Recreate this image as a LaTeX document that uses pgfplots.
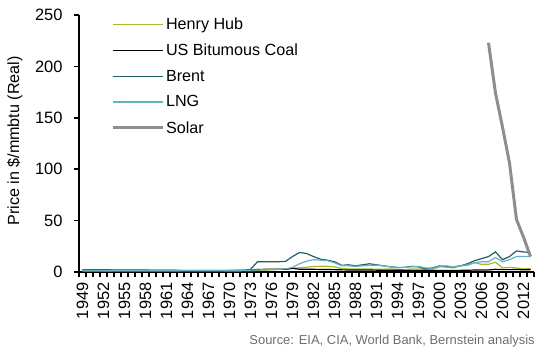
\documentclass[border=0pt]{standalone}
\usepackage{pgfplots}
\pgfplotsset{compat=1.18}
\usepackage{pgfplotstable}
\usepackage{fontspec}
\setmainfont{Liberation Sans}
\definecolor{hh}{HTML}{A8B828}
\definecolor{brent}{HTML}{1E5E6C}
\definecolor{lng}{HTML}{62B4C2}
\definecolor{solar}{HTML}{8E8E8E}
\definecolor{src}{HTML}{6E6E6E}

\pgfplotstableread{
year hh coal brent lng
1949 0.9 1.6 2.2 1.5
1950 0.9 1.6 2.2 1.5
1951 0.9 1.6 2.1 1.5
1952 0.9 1.6 2.1 1.5
1953 0.9 1.6 2.1 1.5
1954 0.9 1.5 2.0 1.5
1955 0.9 1.5 2.0 1.5
1956 0.9 1.5 2.0 1.5
1957 0.9 1.5 2.0 1.5
1958 0.9 1.4 1.9 1.4
1959 0.9 1.4 1.8 1.4
1960 0.9 1.4 1.8 1.4
1961 0.9 1.4 1.7 1.4
1962 0.9 1.4 1.7 1.4
1963 0.9 1.3 1.6 1.4
1964 0.9 1.3 1.6 1.4
1965 0.9 1.3 1.6 1.4
1966 0.9 1.3 1.5 1.4
1967 0.9 1.3 1.5 1.4
1968 0.9 1.3 1.5 1.4
1969 0.9 1.3 1.4 1.4
1970 0.9 1.4 1.4 1.4
1971 1.0 1.5 1.6 1.5
1972 1.1 1.5 1.7 1.6
1973 1.2 1.7 2.5 1.8
1974 1.4 2.5 10.0 2.0
1975 1.7 2.6 10.0 2.2
1976 2.1 2.6 10.0 2.4
1977 2.6 2.6 10.0 2.6
1978 3.0 2.6 10.3 3.0
1979 3.5 3.6 15.0 4.5
1980 4.0 2.7 19.0 8.0
1981 4.6 2.6 18.0 10.5
1982 5.4 2.6 15.0 12.0
1983 5.5 2.5 12.5 11.5
1984 5.5 2.4 11.5 11.0
1985 5.0 2.3 10.0 9.0
1986 3.5 2.1 6.5 6.0
1987 3.0 2.0 7.0 6.0
1988 2.9 1.9 6.0 5.5
1989 3.0 1.9 7.0 6.0
1990 3.0 1.9 8.0 6.5
1991 2.6 1.8 7.0 6.5
1992 2.8 1.8 6.0 6.0
1993 3.0 1.7 5.0 5.0
1994 2.5 1.7 4.5 4.0
1995 2.0 1.6 4.5 4.5
1996 3.0 1.6 5.5 5.0
1997 3.0 1.6 5.0 5.5
1998 2.5 1.5 3.0 4.0
1999 2.5 1.5 4.0 3.5
2000 5.0 1.5 6.0 5.5
2001 5.0 1.6 5.0 6.0
2002 4.0 1.6 5.0 5.0
2003 6.0 1.6 6.0 6.0
2004 6.5 1.7 8.0 7.0
2005 9.0 1.9 11.0 9.0
2006 7.5 2.0 13.0 10.0
2007 7.5 2.0 15.0 10.0
2008 9.5 2.6 19.5 14.0
2009 4.0 2.3 12.0 10.0
2010 4.5 2.3 15.0 12.0
2011 4.0 2.4 20.5 15.0
2012 3.0 2.2 19.5 15.0
2013 3.5 2.1 19.0 15.0
}\energy

\pgfplotstableread{
year solar
2007 223
2008 174
2009 141
2010 106
2011 51
2012 34
2013 15
}\solar

\begin{document}
\begin{tikzpicture}
\useasboundingbox (-79bp,-84bp) rectangle (468bp,272bp);
\begin{axis}[
  at={(0,0)}, anchor=south west,
  scale only axis,
  width=455bp, height=257bp,
  xmin=1948.5, xmax=2013.5,
  ymin=0, ymax=250,
  axis x line*=bottom,
  axis y line*=left,
  axis line style={line width=2.4bp, black},
  xtick={1949,1952,...,2012},
  major x tick style={draw=none},
  minor xtick={1948.5,1949.5,...,2013.5},
  minor x tick style={line width=1.6bp, black},
  minor tick length=5bp,
  ytick={0,50,...,250},
  y tick style={line width=1.6bp, black},
  major tick length=5bp,
  tick align=outside,
  xticklabel style={rotate=90, anchor=east, font=\fontsize{16.5}{16}\selectfont, xshift=-2bp},
  yticklabel style={font=\fontsize{16.5}{16}\selectfont, xshift=-8bp},
  x tick label style={/pgf/number format/1000 sep={}},
  /pgf/number format/assume math mode=true,
  ylabel={Price in \$/mmbtu (Real)},
  ylabel style={font=\fontsize{16.2}{17}\selectfont, at={(axis description cs:-0.141,0.51)}, anchor=center},
  legend style={draw=none, fill=none, at={(axis description cs:0.070,0.998)}, anchor=north west,
    font=\fontsize{16.2}{17}\selectfont, row sep=9bp, inner sep=0pt,
    /tikz/every even column/.append style={column sep=6bp}},
  legend cell align=left,
  legend image code/.code={\draw[#1] (0bp,0bp) -- (50bp,0bp);},
  clip=false,
]
\addplot[hh, line width=1.2bp] table[x=year,y=hh] {\energy};
\addlegendentry{Henry Hub}
\addplot[black, line width=1.2bp] table[x=year,y=coal] {\energy};
\addlegendentry{US Bitumous Coal}
\addplot[brent, line width=1.2bp] table[x=year,y=brent] {\energy};
\addlegendentry{Brent}
\addplot[lng, line width=1.2bp] table[x=year,y=lng] {\energy};
\addlegendentry{LNG}
\addplot[solar, line width=3bp] table[x=year,y=solar] {\solar};
\addlegendentry{Solar}
\node[anchor=east, text=src, font=\fontsize{13}{14}\selectfont, inner sep=0pt] at (axis description cs:1.002,-0.268) {Source: EIA, CIA, World Bank, Bernstein analysis};
\end{axis}
\end{tikzpicture}
\end{document}
